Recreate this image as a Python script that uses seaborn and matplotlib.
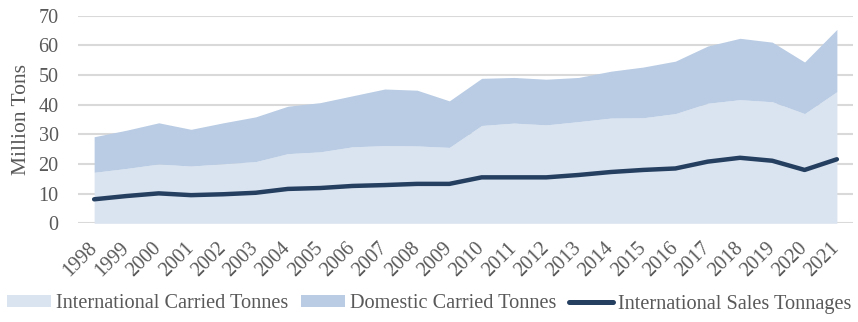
import numpy as np
import pandas as pd
import matplotlib
matplotlib.use("Agg")
import matplotlib.pyplot as plt
import seaborn as sns
from matplotlib.patches import Patch
from matplotlib.lines import Line2D

years = [str(y) for y in range(1998, 2022)]
international_carried = [17.2, 18.5, 20.0, 19.3, 20.1, 20.8, 23.5, 24.1, 25.8, 26.2, 26.1, 25.6,
                         33.0, 33.8, 33.2, 34.3, 35.5, 35.6, 37.0, 40.5, 41.7, 41.0, 37.0, 44.4]
total_carried = [29.2, 31.4, 33.9, 31.7, 33.9, 35.9, 39.5, 40.7, 43.0, 45.3, 44.9, 41.3,
                 48.9, 49.2, 48.6, 49.2, 51.3, 52.7, 54.7, 59.8, 62.4, 61.1, 54.4, 65.4]
domestic_carried = [round(t - i, 1) for t, i in zip(total_carried, international_carried)]
international_sales = [8.1, 9.2, 10.1, 9.5, 9.8, 10.3, 11.6, 11.9, 12.6, 12.9, 13.3, 13.3,
                       15.5, 15.5, 15.5, 16.3, 17.3, 18.0, 18.5, 20.8, 22.1, 21.1, 18.0, 21.6]
y_ticks = [0, 10, 20, 30, 40, 50, 60, 70]
legend_labels = ["International Carried Tonnes", "Domestic Carried Tonnes",
                 "International Sales Tonnages"]

sns.set_theme(style="white")
plt.rcParams['font.family'] = ['Liberation Serif', 'DejaVu Serif']

text_color = "#595959"
c_int = "#dae3f0"
c_dom = "#b9cce4"
c_line = "#243f60"
grid_c = "#d9d9d9"

df = pd.DataFrame({"year": years, "x": np.arange(len(years)),
                   "sales": international_sales})

DPI = 100
fig = plt.figure(figsize=(8.58, 3.22), dpi=DPI)
ax = fig.add_axes([0.0909, 0.3065, 0.9033, 0.6445])

for t in y_ticks:
    ax.axhline(t, color=grid_c, lw=1.5, zorder=0)

ax.stackplot(df["x"], international_carried, domestic_carried,
             colors=[c_int, c_dom], linewidth=0, zorder=1)
sns.lineplot(data=df, x="x", y="sales", ax=ax, color=c_line, lw=3.2,
             zorder=3, legend=False)

ax.set_xlim(-0.5, len(years) - 0.5)
ax.set_ylim(0, 70)
ax.set_yticks(y_ticks)
ax.set_yticklabels([str(t) for t in y_ticks], fontsize=14.5, color=text_color)
ax.set_xticks(df["x"])
ax.set_xticklabels(years, rotation=45, ha="right", va="center",
                   rotation_mode="anchor", fontsize=14.5, color=text_color)
ax.tick_params(axis="x", length=0, pad=16)
ax.tick_params(axis="y", length=0, pad=14)
ax.set_xlabel("")
ax.set_ylabel("Million Tons", fontsize=15.5, color=text_color, labelpad=5)
for s in ax.spines.values():
    s.set_visible(False)

# fit legend font so first label is ~233 px wide, as in the reference
renderer = fig.canvas.get_renderer()
probe = fig.text(0, 0, legend_labels[0], fontsize=14)
w = probe.get_window_extent(renderer).width
probe.remove()
lfs = 14 * 233.0 / w
px = lfs * DPI / 72.0

handles = [Patch(facecolor=c_int, edgecolor="none"),
           Patch(facecolor=c_dom, edgecolor="none"),
           Line2D([0], [0], color=c_line, lw=3.6)]
leg = fig.legend(handles, legend_labels, loc="center", bbox_to_anchor=(0.5, 1 - 304 / 322),
                 ncol=3, frameon=False, fontsize=lfs, handlelength=44 / px,
                 handleheight=11 / px, handletextpad=5 / px, columnspacing=13 / px,
                 borderaxespad=0, borderpad=0)
for t in leg.get_texts():
    t.set_color(text_color)

fig.savefig("out.png", dpi=DPI)
